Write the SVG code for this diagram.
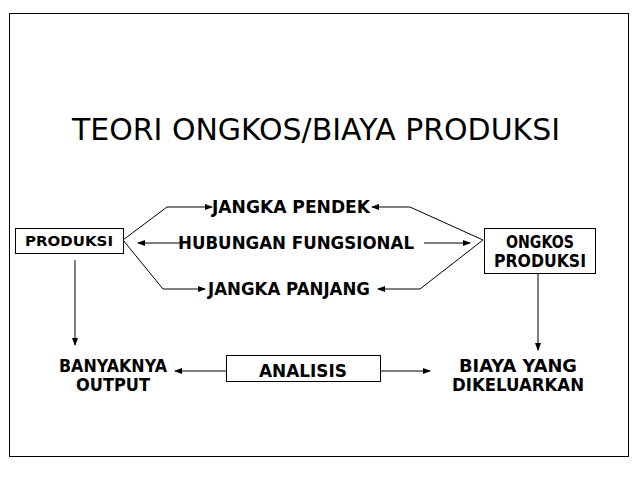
<svg xmlns="http://www.w3.org/2000/svg" width="638" height="479" viewBox="0 0 638 479">
<style>
.t{font-family:"DejaVu Sans",sans-serif;font-weight:bold;font-size:17px;fill:#000;text-anchor:middle}
.b{fill:#fff;stroke:#000;stroke-width:1}
.l{stroke:#000;stroke-width:1;fill:none}
</style>
<defs><marker id="a" markerWidth="8" markerHeight="6" refX="7" refY="3" orient="auto" markerUnits="userSpaceOnUse"><path d="M0,0L8,3L0,6z"/></marker></defs>
<rect width="638" height="479" fill="#fff"/>
<rect x="9.5" y="13.5" width="619" height="443" class="l"/>
<text x="316" y="140" style="font-family:'DejaVu Sans',sans-serif;font-size:31px;text-anchor:middle" textLength="488" lengthAdjust="spacingAndGlyphs">TEORI ONGKOS/BIAYA PRODUKSI</text>
<g id="connectors" class="l">
<path d="M123,240L167,207H212" marker-end="url(#a)"/>
<path d="M483,240L410,207H372" marker-end="url(#a)"/>
<path d="M123,240L163,289H205" marker-end="url(#a)"/>
<path d="M483,240L420,289H378" marker-end="url(#a)"/>
<path d="M180,243H138" marker-end="url(#a)"/>
<path d="M424,243H470" marker-end="url(#a)"/>
<path d="M75,260V345" marker-end="url(#a)"/>
<path d="M538,273V350" marker-end="url(#a)"/>
<path d="M226,371H175" marker-end="url(#a)"/>
<path d="M380,371H430" marker-end="url(#a)"/>
</g>
<g id="produksi"><rect x="15.5" y="228.5" width="108" height="25" class="b"/><text x="69" y="246" class="t" style="font-size:14px" textLength="88" lengthAdjust="spacingAndGlyphs">PRODUKSI</text></g>
<g id="ongkos"><rect x="484.5" y="228.5" width="111" height="45" class="b"/><text x="540" y="248" class="t" textLength="68" lengthAdjust="spacingAndGlyphs">ONGKOS</text><text x="540" y="267" class="t" textLength="92" lengthAdjust="spacingAndGlyphs">PRODUKSI</text></g>
<g id="pendek"><text x="291" y="213" class="t" textLength="158" lengthAdjust="spacingAndGlyphs">JANGKA PENDEK</text></g>
<g id="hubungan"><text x="296" y="249" class="t" textLength="236" lengthAdjust="spacingAndGlyphs">HUBUNGAN FUNGSIONAL</text></g>
<g id="panjang"><text x="289" y="295" class="t" textLength="162" lengthAdjust="spacingAndGlyphs">JANGKA PANJANG</text></g>
<g id="output"><text x="113" y="372" class="t" textLength="108" lengthAdjust="spacingAndGlyphs">BANYAKNYA</text><text x="113" y="391" class="t" textLength="74" lengthAdjust="spacingAndGlyphs">OUTPUT</text></g>
<g id="analisis"><rect x="226.5" y="355.5" width="154" height="26" class="b"/><text x="303" y="377" class="t" textLength="88" lengthAdjust="spacingAndGlyphs">ANALISIS</text></g>
<g id="biaya"><text x="518" y="372" class="t" textLength="118" lengthAdjust="spacingAndGlyphs">BIAYA YANG</text><text x="518" y="391" class="t" textLength="132" lengthAdjust="spacingAndGlyphs">DIKELUARKAN</text></g>
</svg>
